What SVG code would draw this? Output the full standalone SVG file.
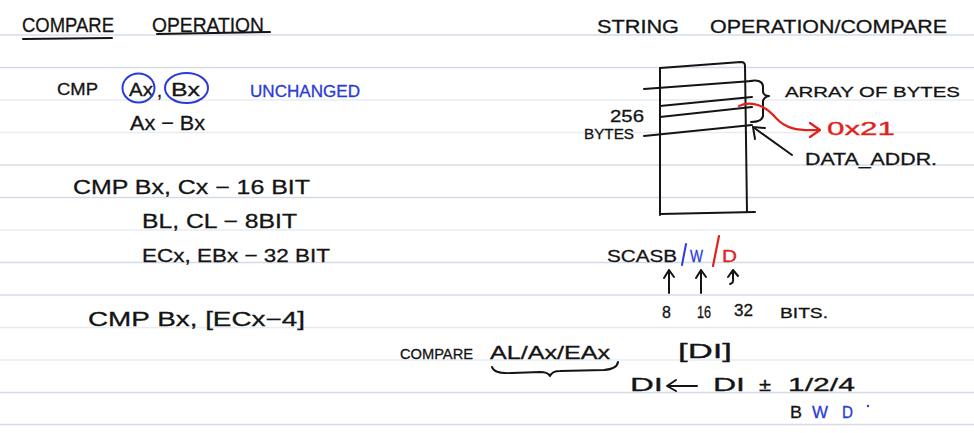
<svg xmlns="http://www.w3.org/2000/svg" width="974" height="433" viewBox="0 0 974 433">
<style>
  text { font-family: "Liberation Sans", Arial, sans-serif; fill: #141414; stroke: #141414; stroke-width: 0.3; }
  .blue { fill: #2b3bd6; stroke: #2b3bd6; }
  .red { fill: #e0221b; stroke: #e0221b; }
  .rule { stroke: #d3dce6; stroke-width: 1.5; }
  .faint { stroke: #e6ecf2; stroke-width: 1.5; }
  .ink { fill: none; stroke: #141414; stroke-width: 2; stroke-linecap: round; stroke-linejoin: round; }
  .inkb { fill: none; stroke: #2b3bd6; stroke-width: 2; stroke-linecap: round; }
  .inkr { fill: none; stroke: #e0221b; stroke-width: 2.2; stroke-linecap: round; stroke-linejoin: round; }
</style>
<rect width="974" height="433" fill="#ffffff"/>
<g id="ruled-lines">
  <line class="rule" x1="0" y1="35" x2="974" y2="35"/>
  <line class="rule" x1="0" y1="67.5" x2="974" y2="67.5"/>
  <line class="faint" x1="0" y1="100" x2="974" y2="100"/>
  <line class="faint" x1="0" y1="132.5" x2="974" y2="132.5"/>
  <line class="rule" x1="0" y1="165" x2="974" y2="165"/>
  <line class="rule" x1="0" y1="197.5" x2="974" y2="197.5"/>
  <line class="faint" x1="0" y1="230" x2="974" y2="230"/>
  <line class="rule" x1="0" y1="262.5" x2="974" y2="262.5"/>
  <line class="rule" x1="0" y1="295" x2="974" y2="295"/>
  <line class="faint" x1="0" y1="327.5" x2="974" y2="327.5"/>
  <line class="faint" x1="0" y1="360" x2="974" y2="360"/>
  <line class="rule" x1="0" y1="392.5" x2="974" y2="392.5"/>
  <line class="rule" x1="0" y1="424.5" x2="974" y2="424.5"/>
</g>

<g id="title-compare-operation">
  <text x="22" y="32" font-size="21" textLength="92" lengthAdjust="spacingAndGlyphs">COMPARE</text>
  <text x="152" y="32" font-size="21" textLength="112" lengthAdjust="spacingAndGlyphs">OPERATION</text>
  <path class="ink" d="M23,39 L112,38"/>
  <path class="ink" d="M157,34 L270,32"/>
</g>

<g id="cmp-ax-bx">
  <text x="57" y="95" font-size="17" textLength="41" lengthAdjust="spacingAndGlyphs">CMP</text>
  <text x="129" y="96" font-size="18" textLength="24" lengthAdjust="spacingAndGlyphs">Ax</text>
  <text x="157" y="97" font-size="18">,</text>
  <text x="171" y="96" font-size="18" textLength="29" lengthAdjust="spacingAndGlyphs">Bx</text>
  <ellipse class="inkb" cx="138.5" cy="88" rx="16" ry="14.5"/>
  <ellipse class="inkb" cx="186.5" cy="88" rx="21.5" ry="15"/>
  <text class="blue" x="250" y="97" font-size="16" textLength="110" lengthAdjust="spacingAndGlyphs">UNCHANGED</text>
  <text x="130" y="130" font-size="21" textLength="75" lengthAdjust="spacingAndGlyphs">Ax − Bx</text>
</g>

<g id="cmp-sizes">
  <text x="73" y="194" font-size="20" textLength="237" lengthAdjust="spacingAndGlyphs">CMP Bx, Cx − 16 BIT</text>
  <text x="142" y="228" font-size="20" textLength="155" lengthAdjust="spacingAndGlyphs">BL, CL − 8BIT</text>
  <text x="142" y="262" font-size="19" textLength="188" lengthAdjust="spacingAndGlyphs">ECx, EBx − 32 BIT</text>
</g>

<g id="cmp-memory">
  <text x="88" y="326" font-size="20" textLength="217" lengthAdjust="spacingAndGlyphs">CMP Bx, [ECx−4]</text>
</g>

<g id="title-string-operation">
  <text x="597" y="33" font-size="18" textLength="82" lengthAdjust="spacingAndGlyphs">STRING</text>
  <text x="710" y="33" font-size="18" textLength="237" lengthAdjust="spacingAndGlyphs">OPERATION/COMPARE</text>
</g>

<g id="memory-array">
  <path class="ink" d="M660,68 L741,62 Q745,62 745,66 L747,212"/>
  <path class="ink" d="M660,68 L660,215"/>
  <path class="ink" d="M660,214 L755,212"/>
  <path class="ink" d="M644,89 L752,81"/>
  <path class="ink" d="M660,106 L752,97"/>
  <path class="ink" d="M660,117 L752,107"/>
  <path class="ink" d="M644,136 L752,125"/>
  <text x="610" y="122" font-size="17" textLength="34" lengthAdjust="spacingAndGlyphs">256</text>
  <text x="584" y="139" font-size="14" textLength="50" lengthAdjust="spacingAndGlyphs">BYTES</text>
</g>

<g id="array-of-bytes">
  <path class="ink" d="M750,81 Q762,79 763,86 L763,92 Q764,96 769,96 Q764,97 763,101 L763,116 Q762,122 751,122"/>
  <text x="785" y="97" font-size="15" textLength="175" lengthAdjust="spacingAndGlyphs">ARRAY OF BYTES</text>
</g>

<g id="value-0x21">
  <text class="red" x="827" y="135" font-size="19" textLength="68" lengthAdjust="spacingAndGlyphs">0x21</text>
</g>

<g id="data-addr">
  <text x="805" y="165" font-size="16" textLength="132" lengthAdjust="spacingAndGlyphs">DATA_ADDR.</text>
</g>

<g id="scas">
  <text x="607" y="262" font-size="17" textLength="70" lengthAdjust="spacingAndGlyphs">SCASB</text>
  <path class="inkb" d="M686,244 L682,265"/>
  <text class="blue" x="690" y="262" font-size="17" textLength="13" lengthAdjust="spacingAndGlyphs">W</text>
  <path class="inkr" d="M719,236 L713,266"/>
  <text class="red" x="722" y="262" font-size="17" textLength="15" lengthAdjust="spacingAndGlyphs">D</text>
</g>

<g id="bit-sizes">
  <text x="662" y="318" font-size="16">8</text>
  <text x="697" y="318" font-size="16" textLength="14" lengthAdjust="spacingAndGlyphs">16</text>
  <text x="734" y="316" font-size="16" textLength="19" lengthAdjust="spacingAndGlyphs">32</text>
  <text x="780" y="318" font-size="15" textLength="48" lengthAdjust="spacingAndGlyphs">BITS.</text>
</g>

<g id="compare-accumulator">
  <text x="400" y="359" font-size="14" textLength="73" lengthAdjust="spacingAndGlyphs">COMPARE</text>
  <text x="490" y="359" font-size="18" textLength="120" lengthAdjust="spacingAndGlyphs">AL/Ax/EAx</text>
  <path class="ink" d="M492,367 Q494,374 512,373 L540,372 Q548,372 550,376 Q552,371 560,371 L604,370 Q617,369 618,362"/>
</g>

<g id="di-operand">
  <text x="678" y="358" font-size="20" textLength="54" lengthAdjust="spacingAndGlyphs">[DI]</text>
</g>

<g id="di-update">
  <text x="630" y="391" font-size="18" textLength="33" lengthAdjust="spacingAndGlyphs">DI</text>
  <text x="713" y="391" font-size="18" textLength="32" lengthAdjust="spacingAndGlyphs">DI</text>
  <text x="759" y="391" font-size="18" textLength="12" lengthAdjust="spacingAndGlyphs">±</text>
  <text x="788" y="391" font-size="18" textLength="67" lengthAdjust="spacingAndGlyphs">1/2/4</text>
  <text x="790" y="418" font-size="17" textLength="12" lengthAdjust="spacingAndGlyphs">B</text>
  <text class="blue" x="812" y="418" font-size="17" textLength="16" lengthAdjust="spacingAndGlyphs">W</text>
  <text class="blue" x="842" y="418" font-size="17" textLength="11" lengthAdjust="spacingAndGlyphs">D</text>
  <circle cx="868" cy="406" r="1.2" fill="#2b3bd6"/>
</g>

<g id="connectors">
  <path class="inkr" d="M739,106 C752,100 766,106 776,118 C785,128 796,131 818,130"/>
  <path class="inkr" d="M810,123 L820,130 L810,137"/>
  <path class="ink" d="M792,155 L753,127"/>
  <path class="ink" d="M753,127 L755,139 M753,127 L765,128"/>
  <path class="ink" d="M669,293 L669,270 M664,278 L669,270 L674,277"/>
  <path class="ink" d="M701,293 L701,270 M696,278 L701,270 L706,277"/>
  <path class="ink" d="M730,284 Q734,283 733,278 L733,270 M728,277 L733,270 L738,276"/>
  <path class="ink" d="M697,386 L668,386 M676,380 L667,386 L676,391"/>
</g>
</svg>
